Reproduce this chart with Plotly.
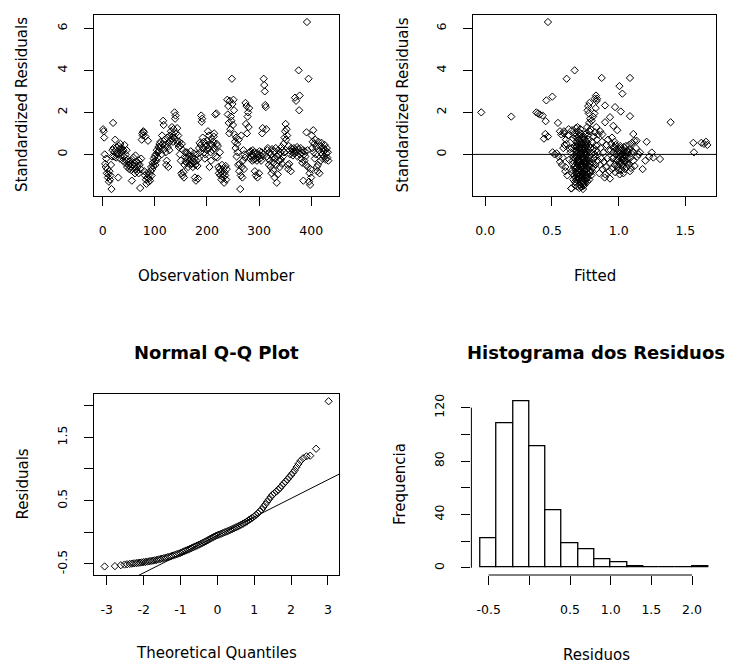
import plotly.graph_objects as go

W, H = 732, 664

# ---------------- DATA ----------------
# Panel 1: standardized residuals in observation order (obs 1..n)
std_resid_by_obs = [
    1.2, 1.1, 0.8, 0.0, -0.45, -0.6, -0.2, -0.9, -0.7, -1.1,
    -0.95, -1.3, -0.8, -1.2, -1.0, -0.5, -1.65, -0.1, 0.2, 1.5,
    0.3, -0.1, 0.1, 0.7, 0.2, -0.15, 0.35, 0.05, 0.0, -1.1,
    0.4, 0.25, -0.2, 0.5, 0.1, -0.05, 0.3, 0.15, -0.3, 0.2,
    -0.1, 0.45, -0.4, 0.0, -0.3, 0.2, -0.6, -0.25, -0.5, -0.35,
    -0.7, -0.45, -0.6, -0.3, -0.75, -1.25, -0.5, -0.65, -0.15, -0.4,
    -0.55, -0.9, -0.05, -0.7, -0.35, -0.8, -0.6, -0.45, -0.9, -0.3,
    -0.5, -1.6, -0.7, -0.2, 0.7, 1.0, 0.9, 1.1, 1.05, -0.8,
    -1.0, 0.85, -1.2, -1.4, -0.9, -1.1, 0.65, -1.3, -1.15, -0.95,
    -1.25, -0.8, -0.6, -1.0, -0.7, -0.4, -0.55, -0.2, -0.35, -0.1,
    -0.5, 0.0, -0.3, 0.2, 0.1, -0.15, 0.35, 0.15, 0.5, 0.3,
    0.6, 0.4, 0.0, 0.9, 0.5, 1.6, 1.4, 0.25, 0.7, 0.45,
    0.1, -0.5, -0.3, 0.8, 0.35, -0.6, 0.55, 0.2, 0.9, 0.65,
    1.1, 0.75, 1.3, 0.95, 0.6, 1.2, 0.8, 2.0, 1.7, 1.85,
    1.0, 0.65, 1.25, 0.5, 0.9, 0.35, 0.6, 0.0, 0.4, -0.3,
    -0.9, 0.5, -1.0, 0.2, -0.85, -1.1, -0.5, 0.1, -0.35, -0.15,
    0.1, -0.4, -0.2, -0.6, 0.0, -0.3, -0.1, -0.5, 0.15, -0.25,
    -0.45, -0.1, -0.6, -0.35, 0.05, -0.2, -1.1, -0.5, -1.25, -0.3,
    0.0, -0.55, -1.15, -0.2, 0.3, 0.55, 0.1, 0.45, 1.85, 1.55,
    1.7, 0.8, 0.3, 0.6, 0.1, -0.2, 0.0, 0.5, 0.4, 0.2,
    0.65, 1.1, 0.3, 0.9, -0.6, 0.5, 0.1, -0.3, 0.75, 0.45,
    0.2, 0.6, 0.85, 1.0, 0.3, 1.9, -0.1, 1.95, 0.5, -0.15,
    0.4, -0.6, -0.9, -0.7, 0.1, -1.0, -0.8, -1.2, -0.5, -0.95,
    -1.1, -0.65, -1.35, -0.85, -1.0, -0.55, -1.2, -0.7, 2.6, 1.9,
    2.3, 1.5, 1.0, 2.55, 1.2, 1.8, 1.6, 3.6, 2.4, 1.4,
    2.6, 2.1, 0.95, 0.6, 0.3, 0.8, -0.1, 0.5, 0.1, -0.5,
    0.7, -0.8, -0.45, -1.65, -1.0, 0.9, -0.6, -1.1, -0.3, 0.2,
    -0.7, 0.0, -0.15, 2.45, 1.45, 2.3, 1.0, 1.8, 2.0, 1.3,
    2.2, 0.1, -0.2, 0.15, -0.1, 0.0, -0.3, 0.2, -0.05, -0.25,
    0.1, -0.8, -0.2, -1.0, 0.05, -0.3, -1.1, -0.15, 0.0, -0.9,
    0.15, -0.2, -0.05, -0.3, 0.1, 1.0, 1.25, 0.0, 3.6, 3.3,
    3.0, 2.35, 2.25, 1.2, -0.1, 0.2, 0.3, -0.2, -0.5, 0.1,
    -0.3, -0.6, 0.0, -0.9, 0.25, -0.15, -0.75, -0.4, 0.15, -1.1,
    -0.2, 0.3, -0.5, -1.35, -0.1, -0.95, 0.2, -0.3, 0.0, -0.6,
    0.1, -0.25, 0.35, -0.45, 0.2, -0.1, 0.5, 0.1, 0.8, 1.1,
    1.45, 0.7, 1.2, 0.9, -0.5, -0.7, 0.4, -0.45, 0.2, 0.0,
    -0.8, 0.3, 0.1, 0.25, -0.05, 0.15, 0.3, 0.05, 2.7, 0.2,
    2.55, 0.1, 0.35, -0.1, 0.25, 4.0, 2.1, 2.8, 0.0, 0.3,
    -0.2, 0.1, -0.4, 0.2, -1.25, 0.0, -0.3, 0.15, -0.1, -0.5,
    1.05, 6.3, 0.2, -0.6, 3.6, -1.3, -0.9, -1.45, -0.7, -1.1,
    0.9, 0.3, 0.6, 1.15, 0.1, 0.5, -0.2, 0.7, 0.0, 0.35,
    -0.6, -0.8, -0.5, 0.6, 0.2, -0.9, 0.4, -0.3, 0.1, 0.55,
    0.0, -0.2, 0.3, 0.15, -0.1, 0.45, 0.2, -0.25, 0.05, 0.3,
    -0.15, 0.1, -0.3,
]

# Panel 2: (fitted, standardized residual) pairs
fitted_main = [
    (0.645,-1.62),(0.66,-1.2),(0.65,-0.9),(0.665,-0.6),(0.655,-0.3),(0.64,0.1),(0.67,0.4),(0.66,0.75),(0.65,1.15),(0.668,-1.0),
    (0.662,-0.15),(0.648,0.3),(0.657,-0.45),(0.669,1.0),(0.652,-0.75),
    (0.675,-1.48),(0.68,-1.35),(0.69,-1.52),(0.685,-1.2),(0.695,-1.05),(0.672,-1.3),(0.688,-0.95),(0.698,-1.15),(0.678,-0.85),(0.692,-0.75),
    (0.683,-0.65),(0.696,-0.9),(0.671,-0.55),(0.687,-0.4),(0.679,-0.7),(0.694,-0.5),(0.69,-0.3),(0.676,-0.2),(0.699,-0.35),(0.684,-0.1),
    (0.681,0.0),(0.693,0.1),(0.674,-0.05),(0.689,0.2),(0.697,0.3),(0.686,0.4),(0.677,0.15),(0.691,0.5),(0.682,0.6),(0.699,0.7),
    (0.673,0.85),(0.688,0.95),(0.695,1.1),(0.68,1.25),(0.692,1.3),(0.678,-1.1),(0.686,-0.6),(0.697,-0.25),(0.684,0.35),(0.69,0.8),
    (0.705,-1.6),(0.71,-1.45),(0.72,-1.55),(0.715,-1.3),(0.725,-1.4),(0.702,-1.2),(0.718,-1.1),(0.728,-1.25),(0.708,-1.0),(0.722,-0.9),
    (0.713,-0.8),(0.726,-1.05),(0.701,-0.7),(0.717,-0.6),(0.709,-0.75),(0.724,-0.5),(0.72,-0.45),(0.706,-0.3),(0.729,-0.55),(0.714,-0.2),
    (0.711,-0.1),(0.723,-0.25),(0.704,0.0),(0.719,0.05),(0.727,-0.15),(0.716,0.15),(0.707,0.25),(0.721,0.1),(0.712,0.35),(0.729,0.3),
    (0.703,0.45),(0.718,0.55),(0.725,0.5),(0.71,0.65),(0.722,0.75),(0.708,0.9),(0.716,1.0),(0.727,0.85),(0.714,1.2),(0.72,-0.95),
    (0.706,-0.4),(0.724,-0.65),(0.712,-1.15),(0.719,0.2),(0.703,-0.35),
    (0.735,-1.5),(0.74,-1.38),(0.75,-1.25),(0.745,-1.45),(0.755,-1.15),(0.732,-1.3),(0.748,-1.0),(0.758,-1.1),(0.738,-0.9),(0.752,-0.95),
    (0.743,-0.8),(0.756,-0.7),(0.731,-0.85),(0.747,-0.6),(0.739,-0.65),(0.754,-0.5),(0.75,-0.4),(0.736,-0.55),(0.759,-0.3),(0.744,-0.35),
    (0.741,-0.2),(0.753,-0.25),(0.734,-0.1),(0.749,0.0),(0.757,-0.05),(0.746,0.1),(0.737,0.2),(0.751,0.15),(0.742,0.3),(0.759,0.4),
    (0.733,0.5),(0.748,0.45),(0.755,0.6),(0.74,0.7),(0.752,0.55),(0.738,0.85),(0.746,0.95),(0.757,1.0),(0.744,-0.75),(0.75,-0.45),
    (0.765,-1.3),(0.77,-1.1),(0.78,-1.2),(0.775,-0.95),(0.785,-0.8),(0.762,-0.7),(0.778,-0.55),(0.788,-0.85),(0.768,-0.4),(0.782,-0.3),
    (0.773,-0.15),(0.786,-0.45),(0.761,0.0),(0.777,0.1),(0.769,0.25),(0.784,-0.05),(0.78,0.4),(0.766,0.55),(0.789,0.3),(0.774,0.7),
    (0.771,0.9),(0.783,1.1),(0.764,1.3),(0.779,1.5),(0.787,1.7),(0.776,1.95),(0.767,2.1),(0.781,2.45),(0.772,2.3),(0.79,1.2),
    (0.795,-1.0),(0.80,-0.8),(0.81,-0.6),(0.805,-0.4),(0.815,-0.2),(0.82,0.0),(0.83,0.2),(0.825,-0.5),(0.835,0.4),(0.84,0.1),
    (0.80,0.6),(0.812,0.85),(0.823,1.05),(0.832,1.3),(0.845,-0.3),(0.798,1.6),(0.808,1.8),(0.818,1.95),(0.828,2.2),(0.838,2.65),
    (0.803,-0.65),(0.813,0.3),(0.826,-0.1),(0.836,0.7),(0.848,0.95),
    (0.855,-0.9),(0.86,-0.5),(0.87,-0.2),(0.865,0.3),(0.875,0.6),(0.88,-0.7),(0.89,-0.35),(0.885,0.1),(0.895,-1.1),(0.9,-0.95),
    (0.91,0.45),(0.905,-0.6),(0.915,-0.2),(0.92,0.7),(0.93,-0.8),(0.925,0.2),(0.862,1.1),(0.878,0.95),
]
fitted_second = [
    (0.935,-0.4),(0.94,0.2),(0.95,-0.7),(0.945,0.5),(0.955,-0.2),(0.96,0.1),(0.97,-0.5),(0.965,0.35),(0.975,-0.85),(0.98,0.0),
    (0.99,-0.3),(0.985,0.25),(0.995,-0.6),(1.0,0.15),(1.01,-0.1),(1.005,-0.45),(1.015,0.3),(1.02,-0.75),(1.03,0.05),(1.025,-0.25),
    (1.035,-0.9),(1.04,0.2),(1.05,-0.35),(1.045,-0.05),(1.055,0.4),(1.06,-0.6),(1.07,0.1),(1.065,-0.2),(1.075,-0.5),(1.08,0.25),
    (1.09,-0.15),(1.085,-0.8),(1.095,0.05),(1.1,0.55),(1.11,-0.3),(1.105,0.15),(1.12,-0.55),(1.13,0.3),(1.14,-0.1),(1.15,0.0),
    (0.962,-0.15),(0.978,0.45),(0.992,0.1),(1.003,-0.35),(1.012,0.4),(1.022,0.0),(1.033,-0.55),(1.042,-0.2),(1.052,0.1),(1.063,-0.4),
    (0.97,0.6),(0.983,-0.25),(0.997,0.3),(1.008,-0.95),(1.018,0.2),(1.027,-0.1),(1.038,0.35),(1.048,-0.7),(1.058,-0.05),(1.068,0.15),
    (0.95,0.8),(0.988,-0.5),(1.0,-0.75),(1.013,0.05),(1.024,-0.4),(1.036,0.1),(1.046,-0.3),(1.078,0.45),(1.092,-0.65),(1.118,0.65),
]
fitted_fringe = [
    (0.505,0.1),(0.52,0.0),(0.535,0.05),(0.55,-0.1),(0.56,-0.35),(0.575,-0.5),(0.585,0.3),(0.595,0.45),(0.6,-0.8),(0.61,0.5),
    (0.62,0.9),(0.625,1.2),(0.63,-0.25),(0.635,0.25),(0.58,-0.15),(0.57,0.95),(0.605,0.7),(0.615,-1.0),(0.59,1.1),(0.6,-0.6),
]
fitted_outliers = [
    (-0.03,2.0),(0.195,1.8),(0.383,2.0),(0.395,1.95),(0.408,1.9),(0.43,1.85),(0.453,1.58),(0.458,2.57),(0.503,2.75),(0.47,6.3),
    (0.61,3.6),(0.67,4.0),(0.545,1.5),(0.56,1.1),(0.59,1.0),(0.45,0.97),(0.44,0.75),(0.47,0.85),(0.873,3.64),(1.085,3.64),
    (1.006,3.25),(1.028,2.89),(0.83,2.8),(0.835,2.55),(0.82,2.65),(0.898,2.33),(0.973,2.25),(1.016,2.04),(1.085,1.82),(1.39,1.53),
    (0.935,1.77),(0.898,1.53),(0.96,1.36),(0.99,1.15),(1.11,0.97),(1.135,0.65),(1.21,0.6),(1.248,0.09),(1.26,-0.15),(1.31,-0.22),
    (1.18,-0.7),(1.56,0.55),(1.565,0.1),(1.62,0.55),(1.64,0.5),(1.655,0.6),(1.665,0.45),(0.935,-1.15),(0.645,-1.62),(0.733,-1.65),
    (1.16,0.1),(1.2,-0.3),(1.23,-0.1),
]

# Panel 3: normal Q-Q points (theoretical quantile, residual)
qq_theoretical = [
    -3.06, -2.78, -2.62, -2.52, -2.45, -2.38, -2.32, -2.26, -2.2, -2.15,
    -2.1, -2.05, -2.0, -1.95, -1.9, -1.85, -1.8, -1.75, -1.7, -1.65,
    -1.6, -1.55, -1.5, -1.45, -1.4, -1.35, -1.3, -1.25, -1.2, -1.15,
    -1.1, -1.05, -1.0, -0.95, -0.9, -0.85, -0.8, -0.75, -0.7, -0.65,
    -0.6, -0.55, -0.5, -0.45, -0.4, -0.35, -0.3, -0.25, -0.2, -0.15,
    -0.1, -0.05, 0.0, 0.05, 0.1, 0.15, 0.2, 0.25, 0.3, 0.35,
    0.4, 0.45, 0.5, 0.55, 0.6, 0.65, 0.7, 0.75, 0.8, 0.85,
    0.9, 0.95, 1.0, 1.05, 1.1, 1.15, 1.2, 1.25, 1.3, 1.35,
    1.4, 1.45, 1.5, 1.55, 1.6, 1.65, 1.7, 1.75, 1.8, 1.85,
    1.9, 1.95, 2.0, 2.05, 2.1, 2.15, 2.2, 2.26, 2.33, 2.42,
    2.52, 2.68, 3.02,
]
qq_residuals = [
    -0.54, -0.535, -0.52, -0.51, -0.505, -0.5, -0.495, -0.49, -0.487, -0.483,
    -0.48, -0.476, -0.472, -0.468, -0.463, -0.458, -0.453, -0.448, -0.443, -0.437,
    -0.43, -0.423, -0.416, -0.409, -0.402, -0.394, -0.385, -0.376, -0.367, -0.357,
    -0.347, -0.336, -0.325, -0.313, -0.3, -0.288, -0.275, -0.262, -0.25, -0.237,
    -0.224, -0.21, -0.196, -0.182, -0.167, -0.152, -0.137, -0.121, -0.105, -0.089,
    -0.074, -0.06, -0.048, -0.036, -0.024, -0.012, 0.0, 0.012, 0.025, 0.038,
    0.05, 0.063, 0.077, 0.091, 0.106, 0.121, 0.137, 0.153, 0.17, 0.19,
    0.21, 0.23, 0.252, 0.275, 0.3, 0.33, 0.36, 0.4, 0.44, 0.48,
    0.52, 0.56, 0.595, 0.62, 0.645, 0.67, 0.7, 0.735, 0.77, 0.8,
    0.835, 0.87, 0.905, 0.94, 0.98, 1.03, 1.08, 1.13, 1.17, 1.2,
    1.21, 1.32, 2.07,
]
qq_line_intercept = -0.053
qq_line_slope = 0.294

# Panel 4: histogram of residuals
hist_bin_edges = [-0.6, -0.4, -0.2, 0.0, 0.2, 0.4, 0.6, 0.8, 1.0, 1.2, 1.4, 1.6, 1.8, 2.0, 2.2]
hist_counts = [22, 108, 125, 91, 43, 18, 14, 6, 4, 1, 0, 0, 0, 1]

# ---------------- LAYOUT HELPERS ----------------
def px_x(x):
    return x / W

def px_y(y):
    return 1 - y / H

FONT = "DejaVu Sans"
TICKFONT = dict(family=FONT, size=12.5, color="black")

P1 = dict(x=(94.3, 339.3), y=(15.3, 196.0))
P2 = dict(x=(473.0, 716.0), y=(15.3, 196.0))
P3 = dict(x=(94.3, 339.3), y=(394.3, 575.0))
P4 = dict(x=(471.4, 717.4), y=(394.3, 575.0))

def dom(p):
    return [px_x(p["x"][0]), px_x(p["x"][1])], [px_y(p["y"][1]), px_y(p["y"][0])]

def axis_style(**kw):
    d = dict(showgrid=False, zeroline=False, showline=True, linecolor="black", linewidth=1,
             mirror=True, ticks="outside", ticklen=9, tickwidth=1, tickcolor="black",
             tickfont=TICKFONT)
    d.update(kw)
    return d

fig = go.Figure()
marker = dict(symbol="diamond-open", size=5.6, color="black", line=dict(width=1, color="black"))

# Panel 1
obs_number = list(range(1, len(std_resid_by_obs) + 1))
fig.add_trace(go.Scatter(x=obs_number, y=std_resid_by_obs, mode="markers", marker=marker,
                         xaxis="x", yaxis="y", hoverinfo="skip"))

# Panel 2
all_fit = fitted_main + fitted_second + fitted_fringe + fitted_outliers
fig.add_trace(go.Scatter(x=[p[0] for p in all_fit], y=[p[1] for p in all_fit], mode="markers",
                         marker=marker, xaxis="x2", yaxis="y2", hoverinfo="skip"))

# Panel 3
qq_xr = [-3.34, 3.31]
fig.add_trace(go.Scatter(x=qq_xr, y=[qq_line_intercept + qq_line_slope * v for v in qq_xr],
                         mode="lines", line=dict(color="black", width=1), xaxis="x3", yaxis="y3",
                         hoverinfo="skip"))
fig.add_trace(go.Scatter(x=qq_theoretical, y=qq_residuals, mode="markers", marker=marker,
                         xaxis="x3", yaxis="y3", hoverinfo="skip"))

# Panel 4
centers = [(a + b) / 2 for a, b in zip(hist_bin_edges[:-1], hist_bin_edges[1:])]
widths = [b - a for a, b in zip(hist_bin_edges[:-1], hist_bin_edges[1:])]
fig.add_trace(go.Bar(x=centers, y=hist_counts, width=widths,
                     marker=dict(color="white", line=dict(color="black", width=1.3)),
                     xaxis="x4", yaxis="y4", hoverinfo="skip"))

d1x, d1y = dom(P1)
d2x, d2y = dom(P2)
d3x, d3y = dom(P3)
d4x, d4y = dom(P4)

fig.update_layout(
    width=W, height=H, margin=dict(l=0, r=0, t=0, b=0),
    paper_bgcolor="white", plot_bgcolor="white", showlegend=False,
    xaxis=axis_style(domain=d1x, anchor="y", range=[-16, 454], tickvals=[0, 100, 200, 300, 400],
                     ticktext=["0", "100", "200", "300", "400"], ticklabelstandoff=14),
    yaxis=axis_style(domain=d1y, anchor="x", range=[-1.98, 6.62], tickvals=[0, 2, 4, 6],
                     ticktext=["0", "2", "4", "6"], tickangle=-90, ticklabelstandoff=12),
    xaxis2=axis_style(domain=d2x, anchor="y2", range=[-0.092, 1.73], tickvals=[0, 0.5, 1, 1.5],
                      ticktext=["0.0", "0.5", "1.0", "1.5"], ticklabelstandoff=14),
    yaxis2=axis_style(domain=d2y, anchor="x2", range=[-1.98, 6.62], tickvals=[0, 2, 4, 6],
                      ticktext=["0", "2", "4", "6"], tickangle=-90, ticklabelstandoff=12),
    xaxis3=axis_style(domain=d3x, anchor="y3", range=[-3.34, 3.31], tickvals=[-3, -2, -1, 0, 1, 2, 3],
                      ticktext=["-3", "-2", "-1", "0", "1", "2", "3"], ticklabelstandoff=14),
    yaxis3=axis_style(domain=d3y, anchor="x3", range=[-0.675, 2.18], tickvals=[-0.5, 0, 0.5, 1, 1.5, 2],
                      ticktext=["-0.5", "", "0.5", "", "1.5", ""], tickangle=-90, ticklabelstandoff=12),
    xaxis4=axis_style(domain=d4x, anchor="y4", range=[-0.712, 2.312], showline=False, mirror=False,
                      tickvals=[-0.5, 0, 0.5, 1, 1.5, 2], ticktext=["-0.5", "", "0.5", "1.0", "1.5", "2.0"],
                      ticklabelstandoff=14),
    yaxis4=axis_style(domain=d4y, anchor="x4", range=[-5.4, 130], showline=False, mirror=False,
                      tickvals=[0, 20, 40, 60, 80, 100, 120], ticktext=["0", "", "40", "", "80", "", "120"],
                      tickangle=-90, ticklabelstandoff=12),
    bargap=0,
)

# Reference line at 0 in panel 2, and R-style partial axis lines for the histogram
fig.add_shape(type="line", xref="x2 domain", yref="y2", x0=0, x1=1, y0=0, y1=0,
              line=dict(color="black", width=1))
fig.add_shape(type="line", xref="x4 domain", yref="y4", x0=0, x1=0, y0=0, y1=120,
              line=dict(color="black", width=1))
fig.add_shape(type="line", xref="x4", yref="y4 domain", x0=-0.5, x1=2.0, y0=0, y1=0,
              line=dict(color="black", width=1))

def label(text, x, y, size=15, angle=0, bold=False):
    t = f"<b>{text}</b>" if bold else text
    fig.add_annotation(text=t, x=px_x(x), y=px_y(y), xref="paper", yref="paper",
                       showarrow=False, textangle=angle, xanchor="center", yanchor="middle",
                       font=dict(family=FONT, size=size, color="black"))

label("Standardized Residuals", 22, 105, angle=-90)
label("Observation Number", 216.8, 276)
label("Standardized Residuals", 402.5, 105, angle=-90)
label("Fitted", 594.5, 276)
label("Normal Q-Q Plot", 216.8, 352, size=18, bold=True)
label("Residuals", 22.5, 484, angle=-90)
label("Theoretical Quantiles", 216.8, 653)
label("Histograma dos Residuos", 596, 352, size=18, bold=True)
label("Frequencia", 400, 484, angle=-90)
label("Residuos", 596, 655)

fig.write_html("out.html", config={"displayModeBar": False},
               post_script="document.body.style.margin='0px';document.body.style.overflow='hidden';")
